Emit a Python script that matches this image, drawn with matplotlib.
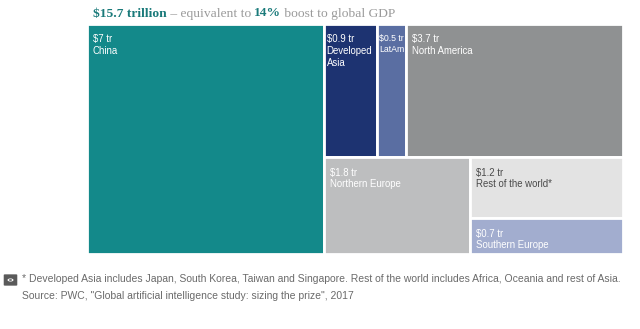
import matplotlib.pyplot as plt
from matplotlib.patches import Rectangle, FancyBboxPatch, Circle

# values in $ trillion
regions = ["China", "Developed\nAsia", "LatAm", "North America",
           "Northern Europe", "Rest of the world*", "Southern Europe"]
values = [7.0, 0.9, 0.5, 3.7, 1.8, 1.2, 0.7]
amounts = ["$7 tr", "$0.9 tr", "$0.5 tr", "$3.7 tr", "$1.8 tr", "$1.2 tr", "$0.7 tr"]
colors = ["#13898a", "#1d3371", "#5a6ea2", "#8f9192", "#bdbebf", "#e3e3e3", "#a2adcf"]
textcolors = ["white", "white", "white", "white", "white", "#4a4a4a", "white"]

title_parts = [("$15.7 trillion", "bold", "#1a7a7a"),
               (" – equivalent to ", "normal", "#9a9a9a"),
               ("14%", "bold", "#1a7a7a"),
               (" boost to global GDP", "normal", "#9a9a9a")]
note1 = ("* Developed Asia includes Japan, South Korea, Taiwan and Singapore. "
         "Rest of the world includes Africa, Oceania and rest of Asia.")
note2 = "Source: PWC, \"Global artificial intelligence study: sizing the prize\", 2017"

# nesting of the treemap: 'h' splits side by side, 'v' stacks top to bottom
layout = ("h", [0, ("v", [("h", [1, 2, 3]), ("h", [4, ("v", [5, 6])])])])


def total(node):
    if isinstance(node, int):
        return values[node]
    return sum(total(n) for n in node[1])


def place(node, x, y, w, h, out):
    # y is the top edge, axis goes downwards
    if isinstance(node, int):
        out[node] = (x, y, w, h)
        return
    d, kids = node
    s = total(node)
    pos = 0.0
    for k in kids:
        f = total(k) / s
        if d == "h":
            place(k, x + pos * w, y, w * f, h, out)
        else:
            place(k, x, y + pos * h, w, h * f, out)
        pos += f


rects = {}
place(layout, 0, 0, 1, 1, rects)

W, H = 640, 329
fig = plt.figure(figsize=(W / 100, H / 100), dpi=100)
ax = fig.add_axes([87 / W, 75 / H, 536 / W, 230 / H])
ax.set_xlim(0, 1)
ax.set_ylim(1, 0)
ax.axis("off")

sans = "Liberation Sans"
renderer = fig.canvas.get_renderer()
for i in range(len(values)):
    x, y, w, h = rects[i]
    ax.add_patch(Rectangle((x, y), w, h, facecolor=colors[i],
                           edgecolor="white", linewidth=2))
    boxpx = w * 536
    pad = 4.2 if boxpx > 60 else 1.5
    lab = ax.annotate(amounts[i] + "\n" + regions[i], (x, y), xytext=(pad, -7.5),
                      textcoords="offset points", ha="left", va="top",
                      color=textcolors[i], fontsize=6.9, family=sans,
                      linespacing=1.2)
    # shrink the label a bit when it does not fit in a narrow box
    tw = lab.get_window_extent(renderer).width
    room = boxpx - pad * 100 / 72 - 2
    if tw > room:
        lab.set_fontsize(6.9 * room / tw)

# title with mixed styles, written piece by piece
serif = "Liberation Serif"
fig.canvas.draw()
xpos = 93
for s, wt, c in title_parts:
    tt = fig.text(xpos / W, 1 - 13.5 / H, s, fontsize=9.7, family=serif,
                  weight=wt, color=c, va="center")
    fig.canvas.draw()
    xpos = tt.get_window_extent().x1

# camera icon
fig.patches.append(FancyBboxPatch((5 / W, 1 - 285 / H), 11 / W, 10 / H,
                                  boxstyle="round,pad=0.002",
                                  transform=fig.transFigure,
                                  facecolor="#5a5a5a", edgecolor="none"))
fig.patches.append(Circle((10.5 / W, 1 - 280 / H), 3 / W,
                          transform=fig.transFigure, facecolor="white",
                          edgecolor="none"))
fig.patches.append(Circle((10.5 / W, 1 - 280 / H), 1.6 / W,
                          transform=fig.transFigure, facecolor="#5a5a5a",
                          edgecolor="none"))

fig.text(22 / W, 1 - 279 / H, note1, fontsize=7.5, family=sans,
         color="#6a6a6a", va="center")
fig.text(22 / W, 1 - 296 / H, note2, fontsize=7.5, family=sans,
         color="#6a6a6a", va="center")

fig.savefig("out.png", dpi=100, facecolor="white")
